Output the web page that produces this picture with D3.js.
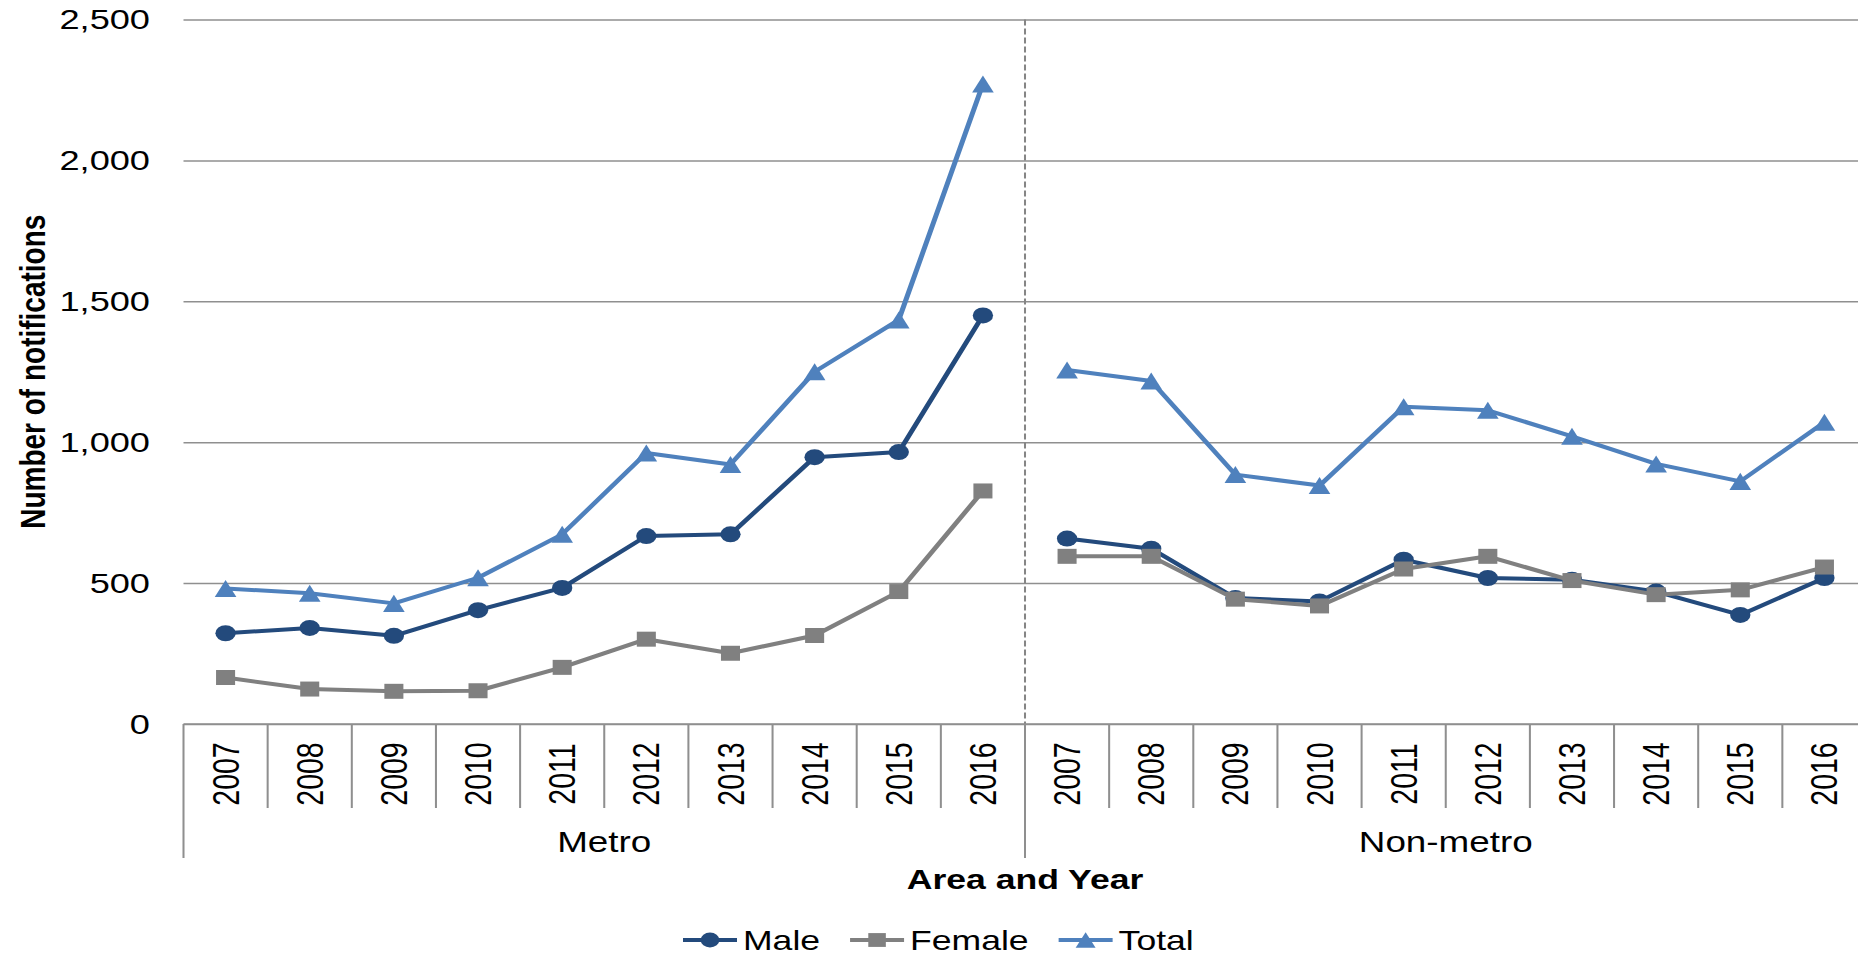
<!DOCTYPE html>
<html lang="en">
<head>
    <meta charset="UTF-8">
    <title>Number of notifications by area and year</title>
    <script src="https://d3js.org/d3.v7.min.js"></script>
    <style>
        body { margin: 0; background: #fff; }
        svg { display: block; }
    </style>
</head>
<body>
<script>
    // Data
    const years = ["2007", "2008", "2009", "2010", "2011", "2012", "2013", "2014", "2015", "2016"];
    const areas = ["Metro", "Non-metro"];

    const maleMetro      = [322, 341, 313, 404, 483, 667, 673, 947, 965, 1450];
    const maleNonMetro   = [658, 622, 447, 435, 583, 518, 512, 470, 387, 518];
    const femaleMetro    = [165, 124, 116, 118, 201, 301, 251, 314, 470, 827];
    const femaleNonMetro = [595, 595, 443, 419, 550, 595, 509, 459, 476, 557];
    const totalMetro     = [481, 464, 428, 519, 673, 962, 921, 1250, 1434, 2271];
    const totalNonMetro  = [1256, 1217, 885, 846, 1126, 1113, 1021, 923, 861, 1071];

    const yTicks = [0, 500, 1000, 1500, 2000, 2500];

    // the original picture is stretched sideways, so draw in narrower units and stretch the svg
    const SX = 1.27;
    const W = 1858, H = 958;
    const VW = W / SX;
    const ux = px => px / SX;

    const font = "'Liberation Sans', Arial, sans-serif";
    const gridColor = "#8f8f8f";

    const plot = { left: ux(183.5), right: ux(1866.5), top: 19.5, bottom: 724 };

    // custom triangle centred on its box, like the spreadsheet markers
    const triangleBox = {
        draw(ctx, size) {
            const r = Math.sqrt(size) / 2;
            ctx.moveTo(0, -r);
            ctx.lineTo(r, r);
            ctx.lineTo(-r, r);
            ctx.closePath();
        }
    };

    const series = [
        { name: "Male",   color: "#234a7c", symbol: d3.symbolCircle, size: Math.PI * 64, values: [maleMetro, maleNonMetro] },
        { name: "Female", color: "#808080", symbol: d3.symbolSquare, size: 225,          values: [femaleMetro, femaleNonMetro] },
        { name: "Total",  color: "#4f81bd", symbol: triangleBox,     size: 290,          values: [totalMetro, totalNonMetro] }
    ];

    const svg = d3.select("body").append("svg")
        .attr("width", W)
        .attr("height", H)
        .attr("viewBox", `0 0 ${VW} ${H}`)
        .attr("preserveAspectRatio", "none");

    const keys = areas.flatMap(a => years.map(yr => a + "|" + yr));
    const x = d3.scaleBand().domain(keys).range([plot.left, plot.right]).padding(0);
    const y = d3.scaleLinear().domain([0, 2500]).range([plot.bottom, plot.top]);
    const bw = x.bandwidth();

    // gridlines and y labels
    svg.append("g")
        .attr("transform", `translate(${plot.left},0)`)
        .call(d3.axisLeft(y)
            .tickValues(yTicks)
            .tickSize(-(plot.right - plot.left))
            .tickPadding(ux(33.5))
            .tickFormat(d3.format(",")))
        .call(g => g.select(".domain").remove())
        .call(g => g.selectAll(".tick line").attr("stroke", gridColor).attr("stroke-width", 1.5))
        .call(g => g.selectAll(".tick text")
            .attr("fill", "#000")
            .attr("font-family", font)
            .attr("font-size", 28.5));

    // dashed divider between the two areas
    svg.append("line")
        .attr("x1", x("Non-metro|2007")).attr("x2", x("Non-metro|2007"))
        .attr("y1", plot.top).attr("y2", plot.bottom)
        .attr("stroke", "#858585")
        .attr("stroke-width", 1.6)
        .attr("stroke-dasharray", "6,3");

    // category axis: year cells and area groups
    const xAxis = svg.append("g");
    xAxis.append("line")
        .attr("x1", plot.left).attr("x2", plot.right)
        .attr("y1", plot.bottom).attr("y2", plot.bottom)
        .attr("stroke", gridColor).attr("stroke-width", 1.5);

    keys.forEach((k, i) => {
        xAxis.append("line")
            .attr("x1", x(k)).attr("x2", x(k))
            .attr("y1", plot.bottom)
            .attr("y2", i % years.length === 0 ? 858 : 808)
            .attr("stroke", gridColor).attr("stroke-width", 1.6);
    });
    xAxis.append("line")
        .attr("x1", plot.right).attr("x2", plot.right)
        .attr("y1", plot.bottom).attr("y2", 858)
        .attr("stroke", gridColor).attr("stroke-width", 1.6);

    xAxis.selectAll("text.year")
        .data(keys)
        .enter().append("text")
        .attr("class", "year")
        .attr("transform", k => `translate(${x(k) + bw / 2},774) rotate(-90)`)
        .attr("dy", "0.36em")
        .attr("text-anchor", "middle")
        .attr("font-family", font)
        .attr("font-size", 28.5)
        .text(k => k.split("|")[1]);

    xAxis.selectAll("text.area")
        .data(areas)
        .enter().append("text")
        .attr("class", "area")
        .attr("x", a => (x(a + "|" + years[0]) + x(a + "|" + years[years.length - 1]) + bw) / 2)
        .attr("y", 852)
        .attr("text-anchor", "middle")
        .attr("font-family", font)
        .attr("font-size", 29)
        .text(a => a);

    // axis titles
    svg.append("text")
        .attr("x", (plot.left + plot.right) / 2)
        .attr("y", 889)
        .attr("text-anchor", "middle")
        .attr("font-family", font)
        .attr("font-weight", "bold")
        .attr("font-size", 28)
        .text("Area and Year");

    svg.append("text")
        .attr("transform", `translate(${ux(45)},${(plot.top + plot.bottom) / 2}) rotate(-90)`)
        .attr("text-anchor", "middle")
        .attr("font-family", font)
        .attr("font-weight", "bold")
        .attr("font-size", 28)
        .text("Number of notifications");

    // series lines and markers, one path per area
    const line = d3.line()
        .x(d => x(d.key) + bw / 2)
        .y(d => y(d.value));

    series.forEach(s => {
        const g = svg.append("g");
        areas.forEach((a, ai) => {
            const pts = years.map((yr, i) => ({ key: a + "|" + yr, value: s.values[ai][i] }));
            g.append("path")
                .datum(pts)
                .attr("fill", "none")
                .attr("stroke", s.color)
                .attr("stroke-width", 4)
                .attr("stroke-linejoin", "round")
                .attr("d", line);
            g.selectAll(null)
                .data(pts)
                .enter().append("path")
                .attr("transform", d => `translate(${x(d.key) + bw / 2},${y(d.value)})`)
                .attr("fill", s.color)
                .attr("d", d3.symbol().type(s.symbol).size(s.size));
        });
    });

    // legend along the bottom
    const legend = svg.append("g").attr("transform", "translate(0,940)");
    let cursor = ux(683);
    series.forEach(s => {
        const item = legend.append("g").attr("transform", `translate(${cursor},0)`);
        item.append("line")
            .attr("x1", 0).attr("x2", ux(54))
            .attr("stroke", s.color)
            .attr("stroke-width", 4);
        item.append("path")
            .attr("transform", `translate(${ux(27)},0)`)
            .attr("fill", s.color)
            .attr("d", d3.symbol().type(s.symbol).size(s.size * 0.85));
        const t = item.append("text")
            .attr("x", ux(60))
            .attr("y", 10)
            .attr("font-family", font)
            .attr("font-size", 28)
            .text(s.name);
        cursor += ux(60) + t.node().getComputedTextLength() + ux(30);
    });
</script>
</body>
</html>
